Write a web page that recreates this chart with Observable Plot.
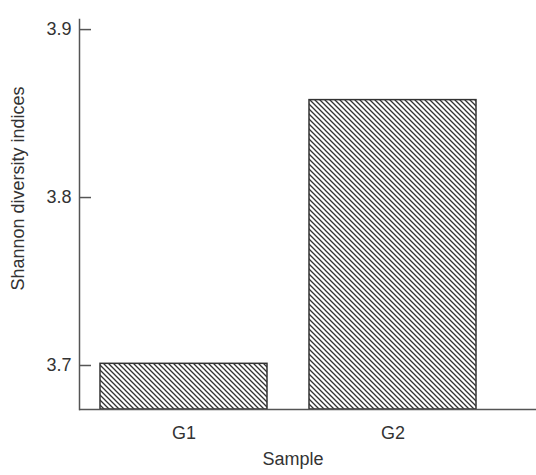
<!DOCTYPE html>
<html>
<head>
<meta charset="utf-8">
<script src="https://cdn.jsdelivr.net/npm/d3@7"></script>
<script src="https://cdn.jsdelivr.net/npm/@observablehq/plot@0.6"></script>
<style>
  html, body { margin: 0; padding: 0; background: white; }
</style>
</head>
<body>
<div id="chart"></div>
<script>
const categories = ["G1", "G2"];
const values = [3.701, 3.858];
const yTicks = [3.7, 3.8, 3.9];
const yMin = 3.6738;
const yMax = 3.906;
const yLabel = "Shannon diversity indices";
const xLabel = "Sample";

const data = categories.map((c, i) => ({cat: c, value: values[i]}));

const chart = Plot.plot({
  width: 536,
  height: 475,
  marginTop: 19,
  marginBottom: 66,
  marginLeft: 79,
  marginRight: 0,
  style: {fontFamily: "'Liberation Sans', Arial, sans-serif", fontSize: "18px", color: "#333", background: "white"},
  x: {domain: categories, range: [79, 497], paddingInner: 0.2, paddingOuter: 0.1, label: null},
  y: {domain: [yMin, yMax], label: null},
  marks: [
    Plot.barY(data, {x: "cat", y1: yMin, y2: "value", fill: "url(#hatch)", stroke: "#333", strokeWidth: 1.5}),
    Plot.axisY({ticks: yTicks, tickSize: -12, tickPadding: 20, tickFormat: d3.format(".1f"), label: null, stroke: "#555", strokeWidth: 1.5, fill: "#333"}),
    Plot.axisX({tickSize: 0, tickPadding: 17, label: null, fill: "#333"}),
    Plot.ruleY([yMin], {stroke: "#555", strokeWidth: 1.5}),
    Plot.frame({anchor: "left", stroke: "#555", strokeWidth: 1.5}),
    Plot.text([yLabel], {frameAnchor: "left", textAnchor: "middle", rotate: -90, dx: -61, dy: -26, fill: "#333", fontSize: 18}),
    Plot.text([xLabel], {frameAnchor: "bottom", textAnchor: "middle", dx: -15, dy: 55, fill: "#333", fontSize: 18})
  ]
});

const svg = d3.select(chart);
const defs = svg.insert("defs", ":first-child");
const pat = defs.append("pattern")
  .attr("id", "hatch")
  .attr("patternUnits", "userSpaceOnUse")
  .attr("width", 5)
  .attr("height", 5);
pat.append("rect").attr("width", 5).attr("height", 5).attr("fill", "white");
pat.append("path")
  .attr("d", "M0,0 L5,5 M-1,4 L1,6 M4,-1 L6,1")
  .attr("stroke", "#333")
  .attr("stroke-width", 1.3);

document.getElementById("chart").appendChild(chart);
</script>
</body>
</html>
